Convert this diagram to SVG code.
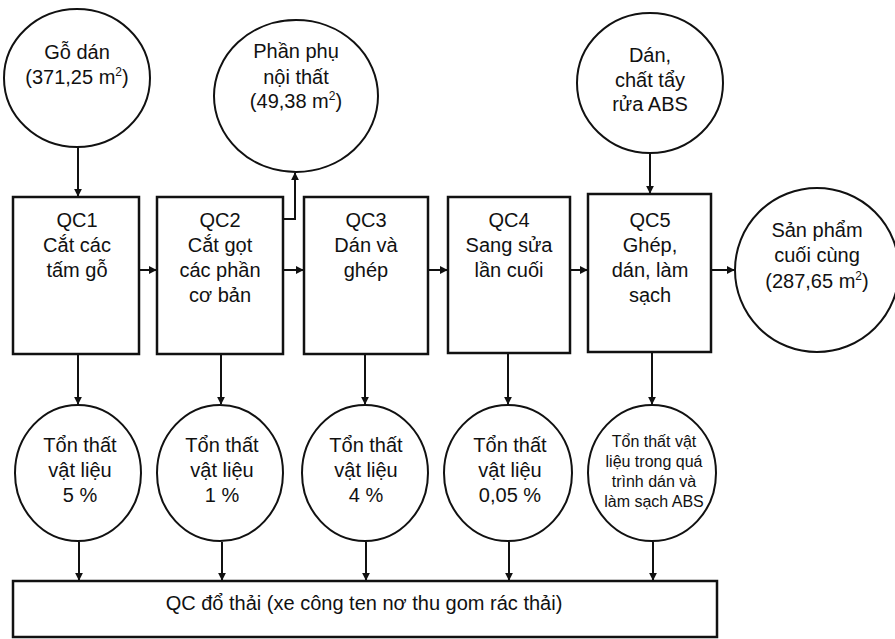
<svg xmlns="http://www.w3.org/2000/svg" width="895" height="639" viewBox="0 0 895 639">
  <style>
    .shape { fill: #fff; stroke: #111; stroke-width: 2; }
    .box { fill: #fff; stroke: #111; stroke-width: 2.5; }
    .lbl { font-family: "Liberation Sans", Arial, sans-serif; font-size: 20px; fill: #111; text-anchor: middle; }
    .sm { font-size: 16px; }
    .sup { font-size: 12px; }
    .wire { fill: none; stroke: #111; stroke-width: 2; }
  </style>
  <defs>
    <marker id="arr" viewBox="0 0 10 10" refX="9" refY="5" markerWidth="8" markerHeight="8" orient="auto" markerUnits="userSpaceOnUse">
      <path d="M0,0 L10,5 L0,10 z" fill="#111"/>
    </marker>
  </defs>

  <rect width="895" height="639" fill="#fff"/>

  <!-- connectors -->
  <g id="connectors" class="wire" marker-end="url(#arr)">
    <line x1="78" y1="147" x2="78" y2="196"/>
    <polyline points="283,219 295,219 295,173"/>
    <line x1="650" y1="152" x2="650" y2="193"/>
    <line x1="139" y1="270" x2="156" y2="270"/>
    <line x1="283" y1="270" x2="303" y2="270"/>
    <line x1="428" y1="270" x2="447" y2="270"/>
    <line x1="570" y1="270" x2="587" y2="270"/>
    <line x1="711" y1="270" x2="734" y2="270"/>
    <line x1="78" y1="354" x2="78" y2="404"/>
    <line x1="221" y1="354" x2="221" y2="404"/>
    <line x1="365" y1="354" x2="365" y2="404"/>
    <line x1="508" y1="353" x2="508" y2="404"/>
    <line x1="652" y1="352" x2="652" y2="404"/>
    <line x1="79" y1="542" x2="79" y2="580"/>
    <line x1="222" y1="542" x2="222" y2="580"/>
    <line x1="366" y1="542" x2="366" y2="580"/>
    <line x1="509" y1="542" x2="509" y2="580"/>
    <line x1="653" y1="542" x2="653" y2="580"/>
  </g>

  <!-- input materials -->
  <g id="go-dan">
    <ellipse class="shape" cx="77" cy="78" rx="73" ry="69"/>
    <text class="lbl" x="77" y="59">Gỗ dán</text>
    <text class="lbl" x="77" y="84">(371,25 m<tspan class="sup" dy="-8">2</tspan><tspan dy="8">)</tspan></text>
  </g>

  <g id="phan-phu">
    <ellipse class="shape" cx="296" cy="96" rx="82" ry="76"/>
    <text class="lbl" x="296" y="58">Phần phụ</text>
    <text class="lbl" x="296" y="84">nội thất</text>
    <text class="lbl" x="296" y="108">(49,38 m<tspan class="sup" dy="-8">2</tspan><tspan dy="8">)</tspan></text>
  </g>

  <g id="dan-abs">
    <ellipse class="shape" cx="650" cy="83" rx="73" ry="70"/>
    <text class="lbl" x="650" y="62">Dán,</text>
    <text class="lbl" x="650" y="87">chất tẩy</text>
    <text class="lbl" x="650" y="111">rửa ABS</text>
  </g>

  <!-- process steps -->
  <g id="qc1">
    <rect class="box" x="13" y="197" width="126" height="157"/>
    <text class="lbl" x="77" y="227">QC1</text>
    <text class="lbl" x="77" y="252">Cắt các</text>
    <text class="lbl" x="77" y="277">tấm gỗ</text>
  </g>

  <g id="qc2">
    <rect class="box" x="157" y="197" width="126" height="157"/>
    <text class="lbl" x="220" y="227">QC2</text>
    <text class="lbl" x="220" y="252">Cắt gọt</text>
    <text class="lbl" x="220" y="277">các phần</text>
    <text class="lbl" x="220" y="302">cơ bản</text>
  </g>

  <g id="qc3">
    <rect class="box" x="304" y="197" width="124" height="157"/>
    <text class="lbl" x="366" y="227">QC3</text>
    <text class="lbl" x="366" y="252">Dán và</text>
    <text class="lbl" x="366" y="277">ghép</text>
  </g>

  <g id="qc4">
    <rect class="box" x="448" y="197" width="122" height="156"/>
    <text class="lbl" x="509" y="227">QC4</text>
    <text class="lbl" x="509" y="252">Sang sửa</text>
    <text class="lbl" x="509" y="277">lần cuối</text>
  </g>

  <g id="qc5">
    <rect class="box" x="588" y="194" width="123" height="158"/>
    <text class="lbl" x="650" y="227">QC5</text>
    <text class="lbl" x="650" y="252">Ghép,</text>
    <text class="lbl" x="650" y="277">dán, làm</text>
    <text class="lbl" x="650" y="302">sạch</text>
  </g>

  <!-- final product -->
  <g id="san-pham">
    <circle class="shape" cx="817" cy="270" r="82"/>
    <text class="lbl" x="817" y="237">Sản phẩm</text>
    <text class="lbl" x="817" y="262">cuối cùng</text>
    <text class="lbl" x="817" y="288">(287,65 m<tspan class="sup" dy="-8">2</tspan><tspan dy="8">)</tspan></text>
  </g>

  <!-- material losses -->
  <g id="loss1">
    <ellipse class="shape" cx="78" cy="473" rx="63" ry="68"/>
    <text class="lbl" x="80" y="452">Tổn thất</text>
    <text class="lbl" x="80" y="477">vật liệu</text>
    <text class="lbl" x="80" y="502">5 %</text>
  </g>

  <g id="loss2">
    <ellipse class="shape" cx="220" cy="473" rx="63" ry="68"/>
    <text class="lbl" x="222" y="452">Tổn thất</text>
    <text class="lbl" x="222" y="477">vật liệu</text>
    <text class="lbl" x="222" y="502">1 %</text>
  </g>

  <g id="loss3">
    <ellipse class="shape" cx="365" cy="473" rx="63" ry="68"/>
    <text class="lbl" x="366" y="452">Tổn thất</text>
    <text class="lbl" x="366" y="477">vật liệu</text>
    <text class="lbl" x="366" y="502">4 %</text>
  </g>

  <g id="loss4">
    <ellipse class="shape" cx="508" cy="473" rx="64" ry="68"/>
    <text class="lbl" x="510" y="452">Tổn thất</text>
    <text class="lbl" x="510" y="477">vật liệu</text>
    <text class="lbl" x="510" y="502">0,05 %</text>
  </g>

  <g id="loss5">
    <ellipse class="shape" cx="652" cy="473" rx="64" ry="68"/>
    <text class="lbl sm" x="654" y="447">Tổn thất vật</text>
    <text class="lbl sm" x="654" y="467">liệu trong quá</text>
    <text class="lbl sm" x="654" y="487">trình dán và</text>
    <text class="lbl sm" x="654" y="507">làm sạch ABS</text>
  </g>

  <!-- waste collection -->
  <g id="do-thai">
    <rect class="box" x="13" y="581" width="704" height="56"/>
    <text class="lbl" x="364" y="610">QC đổ thải (xe công ten nơ thu gom rác thải)</text>
  </g>
</svg>
